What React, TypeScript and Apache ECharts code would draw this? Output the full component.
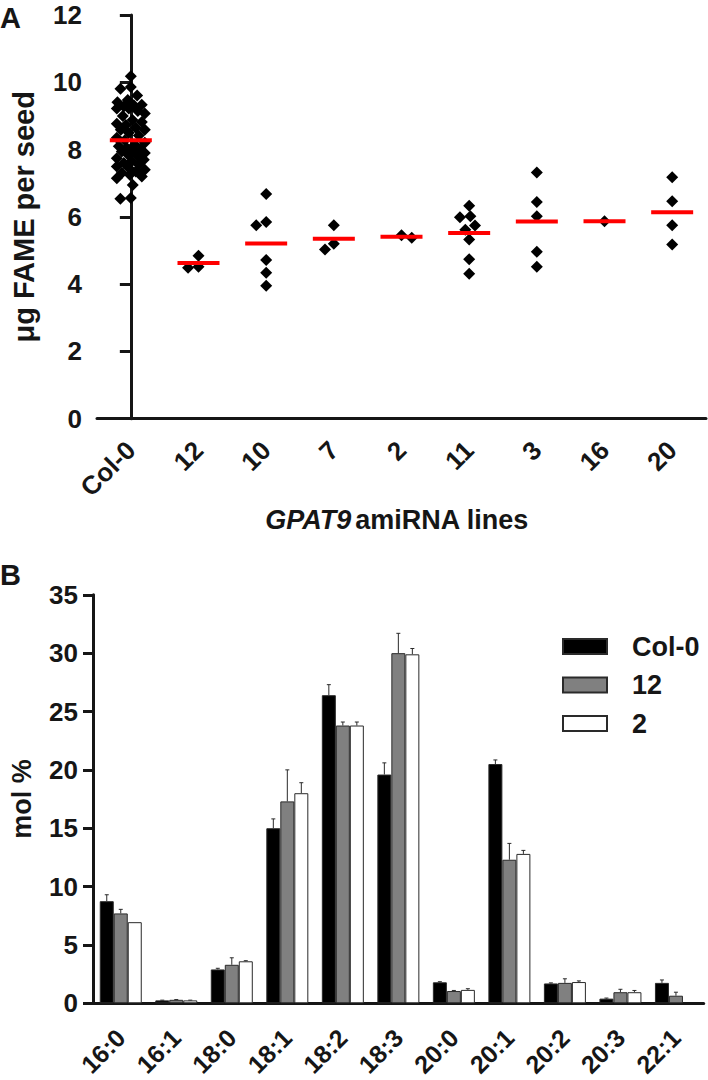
import React, { useEffect, useRef } from "react";
import * as echarts from "echarts";

// ---------- Panel A data ----------
const groupLabels = ["Col-0", "12", "10", "7", "2", "11", "3", "16", "20"];
const col0 = [
  10.18, 9.86, 9.81, 9.61, 9.47, 9.41, 9.33, 9.32, 9.28, 9.22, 9.22, 9.15, 9.07,
  9.0, 8.88, 8.82, 8.77, 8.73, 8.65, 8.59, 8.59, 8.5, 8.42, 8.35, 8.28, 8.2,
  8.14, 8.1, 8.05, 8.0, 7.96, 7.94, 7.9, 7.85, 7.8, 7.74, 7.7, 7.65, 7.6, 7.55,
  7.5, 7.45, 7.4, 7.35, 7.3, 7.25, 7.2, 7.15, 6.95, 6.56, 6.54,
];
const line12 = [4.84, 4.49, 4.52];
const line10 = [6.68, 5.85, 5.75, 4.72, 4.34, 3.95];
const line7 = [5.75, 5.03, 5.2];
const line2 = [5.38, 5.45];
const line11 = [6.33, 5.99, 6.02, 5.74, 5.62, 5.33, 4.74, 4.31];
const line3 = [7.32, 6.44, 6.02, 4.96, 4.52];
const line16 = [5.87];
const line20 = [7.18, 6.46, 5.75, 5.18];
const groupValues = [col0, line12, line10, line7, line2, line11, line3, line16, line20];
const groupMeans = [8.28, 4.63, 5.21, 5.35, 5.41, 5.52, 5.86, 5.87, 6.14];

// ---------- Panel B data ----------
const fattyAcids = ["16:0", "16:1", "18:0", "18:1", "18:2", "18:3", "20:0", "20:1", "20:2", "20:3", "22:1"];
const seriesNames = ["Col-0", "12", "2"];
const molCol0 = [8.75, 0.25, 2.9, 15.0, 26.4, 19.6, 1.8, 20.5, 1.7, 0.4, 1.75];
const molL12 = [7.7, 0.3, 3.3, 17.3, 23.8, 30.0, 1.05, 12.3, 1.75, 0.95, 0.65];
const molL2 = [6.95, 0.25, 3.6, 18.0, 23.8, 29.9, 1.15, 12.8, 1.82, 0.95, null];
const errCol0 = [0.55, 0.02, 0.1, 0.8, 0.9, 1.0, 0.05, 0.35, 0.05, 0.05, 0.25];
const errL12 = [0.35, 0.02, 0.6, 2.7, 0.3, 1.7, 0.05, 1.4, 0.35, 0.25, 0.3];
const errL2 = [0, 0.02, 0.05, 0.9, 0.3, 0.5, 0.1, 0.3, 0.1, 0.15, 0];

const FONT = "'Liberation Sans', Arial, Helvetica, sans-serif";
const INK = "#161616";
const BAR_W = 14;

// beeswarm layout (pixel space) computed from the values
function beeswarm(values: number[], pxPerUnit: number, diam: number, maxOff: number): number[] {
  const order = values.map((v, i) => i).sort((a, b) => values[b] - values[a]);
  const placed: { x: number; y: number }[] = [];
  const out = new Array(values.length).fill(0);
  let flip = 1;
  for (const i of order) {
    const y = values[i] * pxPerUnit;
    const cands: number[] = [0];
    for (const p of placed) {
      const dy = Math.abs(p.y - y);
      if (dy < diam) {
        const dx = Math.sqrt(diam * diam - dy * dy);
        cands.push(p.x + dx, p.x - dx);
      }
    }
    cands.sort((a, b) => Math.abs(a) - Math.abs(b) || (a - b) * flip);
    let chosen: number | null = null;
    for (const c of cands) {
      if (Math.abs(c) > maxOff) continue;
      const ok = placed.every((p) => (p.x - c) ** 2 + (p.y - y) ** 2 >= diam * diam - 0.01);
      if (ok) { chosen = c; break; }
    }
    if (chosen === null) {
      let best = 0, bestD = -1;
      for (let c = -maxOff; c <= maxOff; c += 1) {
        let md = Infinity;
        for (const p of placed) md = Math.min(md, (p.x - c) ** 2 + (p.y - y) ** 2);
        if (md > bestD) { bestD = md; best = c; }
      }
      chosen = best;
    }
    flip = -flip;
    placed.push({ x: chosen, y });
    out[i] = chosen;
  }
  return out;
}

export default function App() {
  const ref = useRef<HTMLDivElement>(null);
  useEffect(() => {
    if (!ref.current) return;
    const chart = echarts.init(ref.current, null, { renderer: "svg" });

    const gridA = { left: 97, top: 15, width: 609, height: 403.7 };
    const gridB = { left: 91, top: 594.8, width: 612.7, height: 408.5 };
    const pxPerUnitA = gridA.height / 12;
    const catW = gridA.width / groupLabels.length;

    const points: number[][] = [];
    groupValues.forEach((vals, gi) => {
      const offs = beeswarm(vals, pxPerUnitA, 10.5, 14);
      vals.forEach((v, k) => points.push([gi + offs[k] / catW, v]));
    });
    const means = groupMeans.map((m, i) => [i, m]);

    const molSeries = [molCol0, molL12, molL2];
    const errSeries = [errCol0, errL12, errL2];
    const barColors = ["#000000", "#808080", "#ffffff"];
    const errData: (number | null)[][] = [];
    molSeries.forEach((vals, si) => {
      vals.forEach((v, ci) => {
        const e = errSeries[si][ci];
        if (v != null && e > 0) errData.push([ci, v, v + e, si]);
      });
    });

    const axisLineStyle = { color: INK, width: 3 };
    const tickLabel = { color: INK, fontFamily: FONT, fontWeight: "bold" as const, fontSize: 26 };

    chart.setOption({
      animation: false,
      grid: [
        { ...gridA, containLabel: false },
        { ...gridB, containLabel: false },
      ],
      legend: {
        orient: "vertical",
        left: 562,
        top: 633,
        padding: 0,
        itemWidth: 44,
        itemHeight: 15,
        itemGap: 11.5,
        icon: "rect",
        data: seriesNames,
        textStyle: { ...tickLabel, fontSize: 27, lineHeight: 27, padding: [0, 0, 0, 20] },
      },
      xAxis: [
        {
          type: "category",
          gridIndex: 0,
          data: groupLabels,
          boundaryGap: true,
          axisLine: { lineStyle: axisLineStyle },
          axisTick: { alignWithLabel: true, length: 11, lineStyle: { color: INK, width: 3 } },
          axisLabel: { ...tickLabel, rotate: 45, margin: 27, interval: 0 },
        },
        { type: "value", gridIndex: 0, min: -0.5, max: groupLabels.length - 0.5, show: false },
        {
          type: "category",
          gridIndex: 1,
          data: fattyAcids,
          boundaryGap: true,
          axisLine: { lineStyle: axisLineStyle },
          axisTick: { alignWithLabel: true, length: 11, lineStyle: { color: INK, width: 3 } },
          axisLabel: { ...tickLabel, fontSize: 25, rotate: 45, margin: 30, interval: 0 },
        },
      ],
      yAxis: [
        {
          type: "value",
          gridIndex: 0,
          min: 0,
          max: 12,
          interval: 2,
          splitLine: { show: false },
          axisLine: { show: true, lineStyle: axisLineStyle },
          axisTick: { show: true, length: 11, lineStyle: { color: INK, width: 3 } },
          axisLabel: { ...tickLabel, margin: 15, lineHeight: 24 },
          name: "μg FAME per seed",
          nameLocation: "middle",
          nameGap: 59,
          nameTextStyle: { color: INK, fontFamily: FONT, fontSize: 29, fontWeight: "bold" },
        },
        {
          type: "value",
          gridIndex: 1,
          min: 0,
          max: 35,
          interval: 5,
          splitLine: { show: false },
          axisLine: { show: true, lineStyle: axisLineStyle },
          axisTick: { show: true, length: 10, lineStyle: { color: INK, width: 3 } },
          axisLabel: { ...tickLabel, margin: 15 },
          name: "mol %",
          nameLocation: "middle",
          nameGap: 58,
          nameTextStyle: { color: INK, fontFamily: FONT, fontSize: 27, fontWeight: "bold" },
        },
      ],
      series: [
        {
          type: "scatter",
          xAxisIndex: 1,
          yAxisIndex: 0,
          symbol: "diamond",
          symbolSize: 12,
          itemStyle: { color: "#000000", opacity: 1 },
          data: points,
          z: 2,
        },
        {
          type: "scatter",
          xAxisIndex: 1,
          yAxisIndex: 0,
          symbol: "rect",
          symbolSize: [42, 4],
          itemStyle: { color: "#ff0000", opacity: 1 },
          data: means,
          z: 3,
        },
        ...molSeries.map((vals, si) => ({
          type: "bar",
          name: seriesNames[si],
          xAxisIndex: 2,
          yAxisIndex: 1,
          barWidth: BAR_W,
          barGap: "0%",
          data: vals,
          itemStyle: { color: barColors[si], borderColor: "#2a2a2a", borderWidth: 1 },
          z: 2,
        })),
        {
          type: "custom",
          xAxisIndex: 2,
          yAxisIndex: 1,
          data: errData,
          z: 1,
          renderItem: (params: any, api: any) => {
            const ci = api.value(0);
            const v = api.value(1);
            const top = api.value(2);
            const si = api.value(3);
            const base = api.coord([ci, v]);
            const t = api.coord([ci, top]);
            const x = base[0] + (si - 1) * BAR_W;
            return {
              type: "group",
              children: [
                { type: "line", shape: { x1: x, y1: base[1], x2: x, y2: t[1] }, style: { stroke: "#2a2a2a", lineWidth: 1 } },
                { type: "line", shape: { x1: x - 2, y1: t[1], x2: x + 2, y2: t[1] }, style: { stroke: "#2a2a2a", lineWidth: 1 } },
              ],
            };
          },
        },
      ],
      graphic: [
        { type: "text", left: 0, top: 3, style: { text: "A", fontFamily: FONT, fontWeight: "bold", fontSize: 29, fill: INK } },
        { type: "text", left: 0, top: 560, style: { text: "B", fontFamily: FONT, fontWeight: "bold", fontSize: 29, fill: INK } },
        {
          type: "text",
          x: 397,
          y: 520,
          style: {
            text: "{i|GPAT9} {n|amiRNA lines}",
            align: "center",
            verticalAlign: "middle",
            rich: {
              i: { fontFamily: FONT, fontWeight: "bold", fontStyle: "italic", fontSize: 27, fill: INK },
              n: { fontFamily: FONT, fontWeight: "bold", fontSize: 27, fill: INK },
            },
          },
        },
      ],
    });
    return () => chart.dispose();
  }, []);
  return <div ref={ref} style={{ position: "absolute", left: 0, top: 0, width: 708, height: 1080 }} />;
}
